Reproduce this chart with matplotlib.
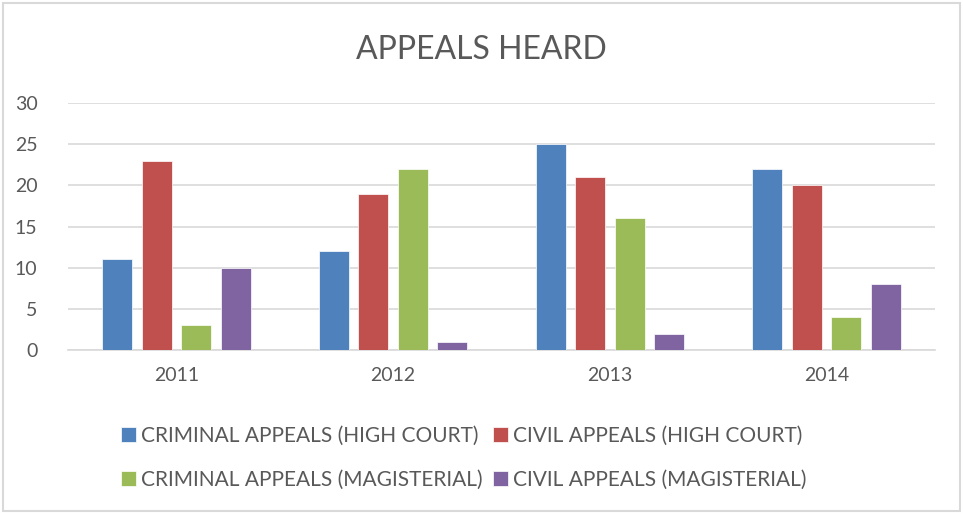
import numpy as np
import matplotlib.pyplot as plt
from matplotlib.patches import Rectangle

# data
years = ['2011', '2012', '2013', '2014']
criminal_high = [11, 12, 25, 22]
civil_high = [23, 19, 21, 20]
criminal_mag = [3, 22, 16, 4]
civil_mag = [10, 1, 2, 8]

series = [
    ('CRIMINAL APPEALS (HIGH COURT)', criminal_high, '#4f81bd'),
    ('CIVIL APPEALS (HIGH COURT)', civil_high, '#c0504d'),
    ('CRIMINAL APPEALS (MAGISTERIAL)', criminal_mag, '#9bbb59'),
    ('CIVIL APPEALS (MAGISTERIAL)', civil_mag, '#8064a2'),
]

plt.rcParams['font.family'] = ['Lato', 'DejaVu Sans']
text_col = '#595959'

fig = plt.figure(figsize=(9.63, 5.14), dpi=100)
ax = fig.add_axes([68 / 963, 1 - 350 / 514, 867 / 963, 247 / 514])

x = np.arange(len(years))
pitch = 0.182
width = 0.138
handles = []
for i, (name, vals, col) in enumerate(series):
    b = ax.bar(x + (i - 1.5) * pitch, vals, width, color=col, label=name,
               edgecolor='white', linewidth=0.5, zorder=3)
    handles.append(b)

ax.set_xlim(-0.5, len(years) - 0.5)
ax.set_ylim(0, 30)
ax.set_yticks(range(0, 31, 5))
ax.set_xticks(x)
ax.set_xticklabels(years)
ax.yaxis.grid(True, color='#d9d9d9', linewidth=1.2, zorder=0)
for s in ['top', 'right', 'left']:
    ax.spines[s].set_visible(False)
ax.spines['bottom'].set_color('#d9d9d9')
ax.spines['bottom'].set_linewidth(1.2)
ax.tick_params(axis='both', length=0, labelsize=14, colors=text_col)
ax.tick_params(axis='y', pad=22)
ax.tick_params(axis='x', pad=12)

fig.text(0.5, 1 - 50 / 514, 'APPEALS HEARD', ha='center', va='center',
         fontsize=23, color=text_col)

# legend fills row by row in the reference
order = [0, 2, 1, 3]
leg = fig.legend(handles=[handles[i] for i in order], loc='center', ncol=2,
                 bbox_to_anchor=(464 / 963, 1 - 458 / 514), frameon=False,
                 fontsize=15, handlelength=0.7, handleheight=0.7,
                 handletextpad=0.25, columnspacing=0.5, labelspacing=1.15)
for t in leg.get_texts():
    t.set_color(text_col)

# light border around the chart
fig.patches.append(Rectangle((3 / 963, 3 / 514), 957 / 963, 508 / 514,
                             transform=fig.transFigure, fill=False,
                             edgecolor='#d9d9d9', linewidth=1.5))

fig.savefig('out.png', dpi=100)
